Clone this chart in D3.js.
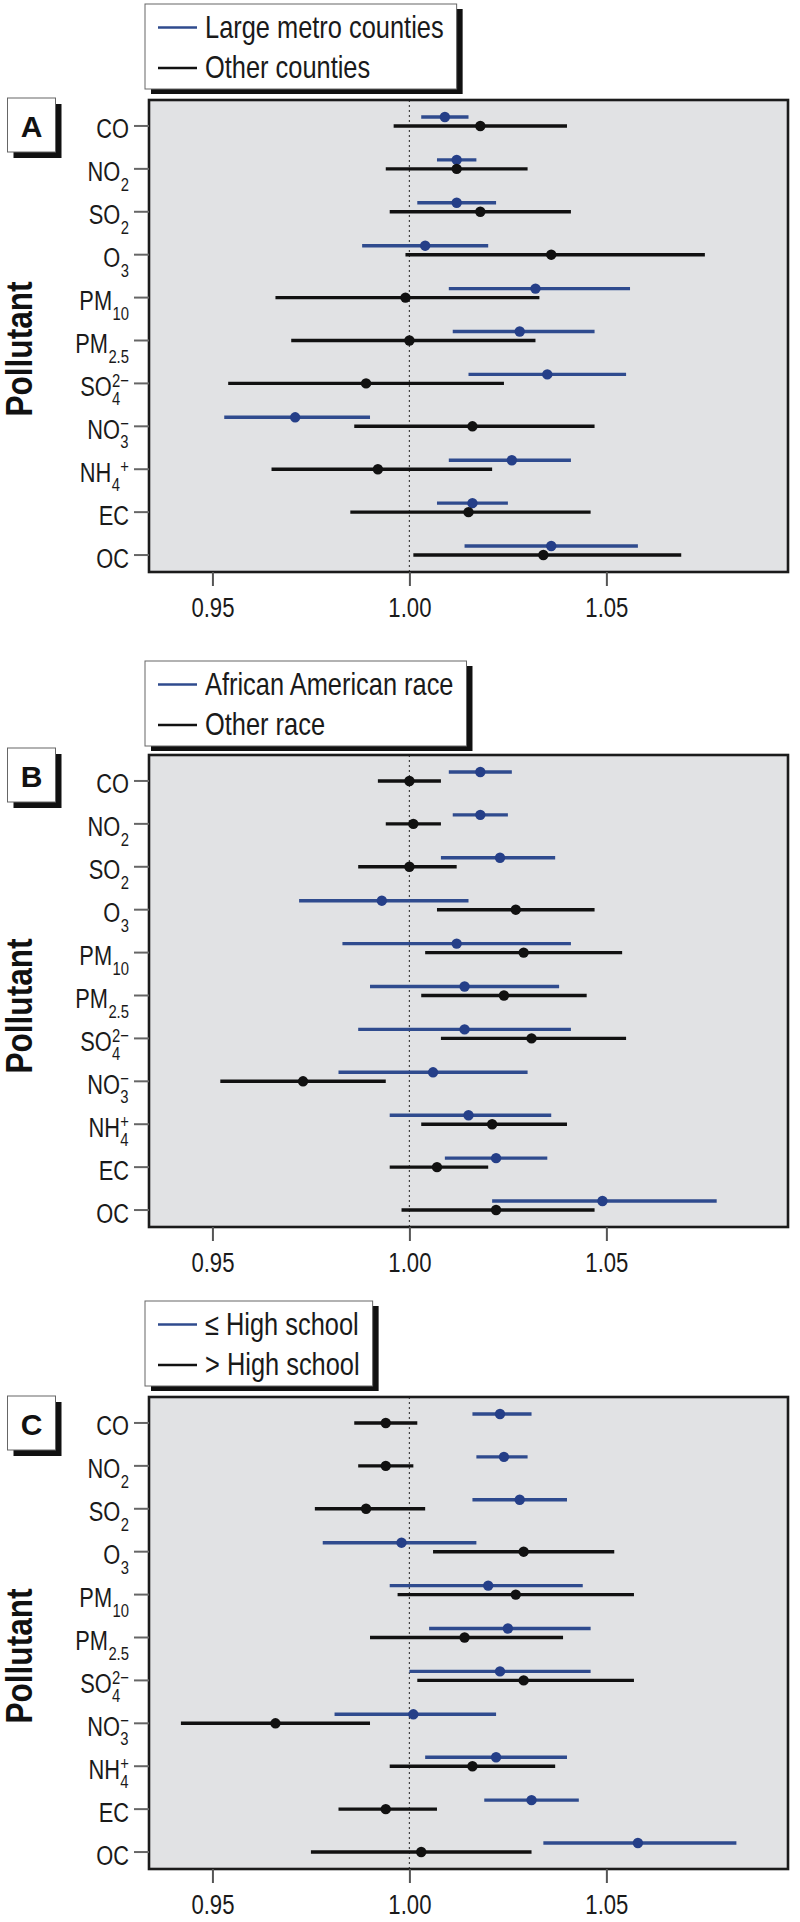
<!DOCTYPE html>
<html><head><meta charset="utf-8">
<script src="https://cdn.jsdelivr.net/npm/d3@7"></script>
<style>
body{margin:0;background:#fff;}
svg{display:block;}
</style></head><body>
<svg id="chart" width="800" height="1922"></svg>
<script>
// ---------------- DATA ----------------
const pollutants = ["CO","NO2","SO2","O3","PM10","PM2.5","SO4","NO3","NH4","EC","OC"];
const labelMain = ["CO","NO","SO","O","PM","PM","SO","NO","NH","EC","OC"];
const labelSub  = ["","2","2","3","10","2.5","4","3","4","",""];
const labelSup  = ["","","","","","","2\u2212","\u2212","+","",""];
const xTicks = [0.95, 1.00, 1.05];
const xDomain = [0.9339, 1.0961];
const panelLetters = ["A","B","C"];
const legendA = ["Large metro counties","Other counties"];
const legendB = ["African American race","Other race"];
const legendC = ["\u2264 High school","> High school"];

// Panel A
const aBluePt  = [1.009,1.012,1.012,1.004,1.032,1.028,1.035,0.971,1.026,1.016,1.036];
const aBlueLo  = [1.003,1.007,1.002,0.988,1.010,1.011,1.015,0.953,1.010,1.007,1.014];
const aBlueHi  = [1.015,1.017,1.022,1.020,1.056,1.047,1.055,0.990,1.041,1.025,1.058];
const aBlackPt = [1.018,1.012,1.018,1.036,0.999,1.000,0.989,1.016,0.992,1.015,1.034];
const aBlackLo = [0.996,0.994,0.995,0.999,0.966,0.970,0.954,0.986,0.965,0.985,1.001];
const aBlackHi = [1.040,1.030,1.041,1.075,1.033,1.032,1.024,1.047,1.021,1.046,1.069];
// Panel B
const bBluePt  = [1.018,1.018,1.023,0.993,1.012,1.014,1.014,1.006,1.015,1.022,1.049];
const bBlueLo  = [1.010,1.011,1.008,0.972,0.983,0.990,0.987,0.982,0.995,1.009,1.021];
const bBlueHi  = [1.026,1.025,1.037,1.015,1.041,1.038,1.041,1.030,1.036,1.035,1.078];
const bBlackPt = [1.000,1.001,1.000,1.027,1.029,1.024,1.031,0.973,1.021,1.007,1.022];
const bBlackLo = [0.992,0.994,0.987,1.007,1.004,1.003,1.008,0.952,1.003,0.995,0.998];
const bBlackHi = [1.008,1.008,1.012,1.047,1.054,1.045,1.055,0.994,1.040,1.020,1.047];
// Panel C
const cBluePt  = [1.023,1.024,1.028,0.998,1.020,1.025,1.023,1.001,1.022,1.031,1.058];
const cBlueLo  = [1.016,1.017,1.016,0.978,0.995,1.005,1.000,0.981,1.004,1.019,1.034];
const cBlueHi  = [1.031,1.030,1.040,1.017,1.044,1.046,1.046,1.022,1.040,1.043,1.083];
const cBlackPt = [0.994,0.994,0.989,1.029,1.027,1.014,1.029,0.966,1.016,0.994,1.003];
const cBlackLo = [0.986,0.987,0.976,1.006,0.997,0.990,1.002,0.942,0.995,0.982,0.975];
const cBlackHi = [1.002,1.001,1.004,1.052,1.057,1.039,1.057,0.990,1.037,1.007,1.031];

// ---------------- LAYOUT / STYLE ----------------
const SANS = "'Liberation Sans',Arial,Helvetica,sans-serif";
const BLUE = "#2f4b8e", BLUE_DOT = "#253f88", BLACK = "#111";
const PL = 149, PR = 788, PH = 472;
const SX_LEG = 0.82, SX_TICK = 0.82, SX_LAB = 0.78;

const panels = [
  {letter: panelLetters[0], legend: legendA, top: 100, legTop: 4, boxTop: 98, titleY: 349, stackNH4: false,
   series: [{pt: aBluePt, lo: aBlueLo, hi: aBlueHi}, {pt: aBlackPt, lo: aBlackLo, hi: aBlackHi}]},
  {letter: panelLetters[1], legend: legendB, top: 755, legTop: 661, boxTop: 748, titleY: 1006, stackNH4: true,
   series: [{pt: bBluePt, lo: bBlueLo, hi: bBlueHi}, {pt: bBlackPt, lo: bBlackLo, hi: bBlackHi}]},
  {letter: panelLetters[2], legend: legendC, top: 1397, legTop: 1301, boxTop: 1396, titleY: 1656, stackNH4: true,
   series: [{pt: cBluePt, lo: cBlueLo, hi: cBlueHi}, {pt: cBlackPt, lo: cBlackLo, hi: cBlackHi}]}
];

const svg = d3.select("#chart");

panels.forEach(p => {
  const g = svg.append("g");
  const x = d3.scaleLinear().domain(xDomain).range([PL, PR]);
  const y = d3.scaleBand().domain(pollutants).range([p.top, p.top + PH]);
  const yc = d => y(d) + y.bandwidth() / 2;

  // ---- legend ----
  const lg = g.append("g");
  const shadowL = lg.append("rect").attr("fill", "#111");
  const boxL = lg.append("rect").attr("fill", "#fff").attr("stroke", "#666").attr("stroke-width", 1);
  const legColors = [BLUE, BLACK];
  let maxW = 0;
  p.legend.forEach((txt, i) => {
    const ly = p.legTop + 23.5 + i * 40.5;
    lg.append("line").attr("x1", 158).attr("x2", 197).attr("y1", ly).attr("y2", ly)
      .attr("stroke", legColors[i]).attr("stroke-width", 2.6);
    const t = lg.append("g").attr("transform", `translate(205,${ly + 10.3}) scale(${SX_LEG},1)`)
      .append("text").attr("font-family", SANS).attr("font-size", 31).attr("fill", "#1a1a1a").text(txt);
    maxW = Math.max(maxW, t.node().getComputedTextLength() * SX_LEG);
  });
  const lw = 205 + maxW + 13 - 145;
  boxL.attr("x", 145).attr("y", p.legTop).attr("width", lw).attr("height", 85);
  shadowL.attr("x", 151).attr("y", p.legTop + 5).attr("width", lw).attr("height", 85);

  // ---- panel letter box ----
  g.append("rect").attr("x", 13.5).attr("y", p.boxTop + 6).attr("width", 48).attr("height", 54).attr("fill", "#111");
  g.append("rect").attr("x", 7.5).attr("y", p.boxTop).attr("width", 48).attr("height", 54)
    .attr("fill", "#fff").attr("stroke", "#666").attr("stroke-width", 1);
  g.append("text").attr("x", 31.5).attr("y", p.boxTop + 39).attr("text-anchor", "middle")
    .attr("font-family", SANS).attr("font-weight", "bold").attr("font-size", 30).attr("fill", "#111").text(p.letter);

  // ---- plot background ----
  g.append("rect").attr("x", PL).attr("y", p.top).attr("width", PR - PL).attr("height", PH).attr("fill", "#e1e2e4");

  // reference line at 1.00
  g.append("line").attr("x1", x(1)).attr("x2", x(1)).attr("y1", p.top).attr("y2", p.top + PH)
    .attr("stroke", "#444").attr("stroke-width", 1.2).attr("stroke-dasharray", "2,3");

  // ---- series ----
  const offs = [-4.5, 4.5];
  const lineCol = [BLUE, BLACK];
  const dotCol = [BLUE_DOT, BLACK];
  p.series.forEach((s, si) => {
    const sg = g.append("g");
    sg.selectAll("line").data(pollutants).enter().append("line")
      .attr("x1", (d, i) => x(s.lo[i])).attr("x2", (d, i) => x(s.hi[i]))
      .attr("y1", d => yc(d) + offs[si]).attr("y2", d => yc(d) + offs[si])
      .attr("stroke", lineCol[si]).attr("stroke-width", 3.4);
    sg.selectAll("circle").data(pollutants).enter().append("circle")
      .attr("cx", (d, i) => x(s.pt[i])).attr("cy", d => yc(d) + offs[si]).attr("r", 5.2)
      .attr("fill", dotCol[si]);
  });

  // ---- border ----
  g.append("rect").attr("x", PL).attr("y", p.top).attr("width", PR - PL).attr("height", PH)
    .attr("fill", "none").attr("stroke", "#1b1b1b").attr("stroke-width", 2.6);

  // ---- x axis ----
  const xa = g.append("g").attr("transform", `translate(0,${p.top + PH})`)
    .call(d3.axisBottom(x).tickValues(xTicks).tickFormat(d3.format(".2f")).tickSize(14).tickPadding(12));
  xa.select(".domain").remove();
  xa.selectAll(".tick line").attr("stroke", "#555").attr("stroke-width", 2);
  xa.selectAll(".tick text").attr("font-family", SANS).attr("font-size", 27).attr("fill", "#1a1a1a")
    .attr("transform", `scale(${SX_TICK},1)`);

  // ---- y axis ----
  const ya = g.append("g").attr("transform", `translate(${PL},4.5)`)
    .call(d3.axisLeft(y).tickSize(15).tickFormat(""));
  ya.select(".domain").remove();
  ya.selectAll(".tick line").attr("stroke", "#666").attr("stroke-width", 2);

  // y labels with sub/superscripts (one text element each)
  pollutants.forEach((d, i) => {
    const base = yc(d) + 4.5 + 12.5;
    const lgp = g.append("g");
    const t = lgp.append("text").attr("font-family", SANS).attr("fill", "#1a1a1a");
    const m = t.append("tspan").attr("x", 0).attr("y", 0).attr("font-size", 28).text(labelMain[i]);
    const w = t.node().getComputedTextLength();
    let subW = 0, supW = 0;
    if (labelSub[i]) {
      const s = t.append("tspan").attr("x", w + 0.5).attr("y", 9.5).attr("font-size", 19).text(labelSub[i]);
      subW = s.node().getComputedTextLength() + 0.5;
    }
    if (labelSup[i]) {
      const stacked = !(d === "NH4" && !p.stackNH4);
      const sx = stacked ? w + 0.5 : w + subW + 0.5;
      const s = t.append("tspan").attr("x", sx).attr("y", -8.5).attr("font-size", 19).text(labelSup[i]);
      supW = s.node().getComputedTextLength() + (sx - w);
    }
    const total = (w + Math.max(subW, supW)) * SX_LAB;
    lgp.attr("transform", `translate(${129 - total},${base}) scale(${SX_LAB},1)`);
  });

  // ---- y title ----
  g.append("text").attr("transform", `translate(31.5,${p.titleY}) rotate(-90)`)
    .attr("text-anchor", "middle").attr("font-family", SANS).attr("font-weight", "bold")
    .attr("font-size", 36).attr("fill", "#111")
    .attr("textLength", 135).attr("lengthAdjust", "spacingAndGlyphs").text("Pollutant");
});
</script>
</body></html>
